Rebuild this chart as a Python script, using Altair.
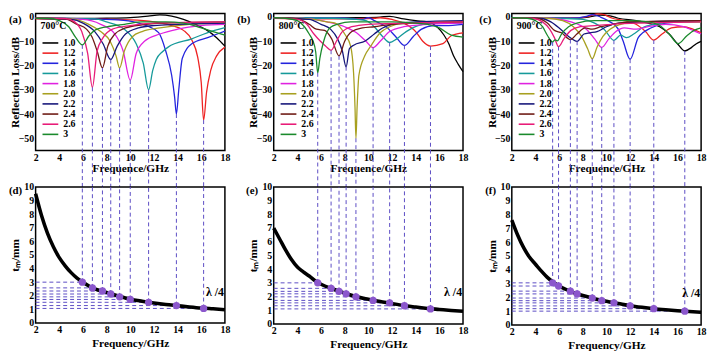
import altair as alt
import pandas as pd

FONT = "Liberation Serif"
THICK = ["1.0", "1.2", "1.4", "1.6", "1.8", "2.0", "2.2", "2.4", "2.6", "3"]
COLORS = ["#000000", "#ee2222", "#2424dd", "#169a9a", "#e022e0", "#a8a020",
          "#16167a", "#6e1a14", "#e81c78", "#1a8a2c"]
LINE_PURPLE = "#5b4cc4"
DOT_PURPLE = "#8b57cc"
X_TICKS = [2, 4, 6, 8, 10, 12, 14, 16, 18]
RL_TICKS = [0, -10, -20, -30, -40, -50]
TM_TICKS = list(range(0, 11))
XMIN, XMAX = 2, 18
RL_DOMAIN = [-55, 1.5]
TM_DOMAIN = [0, 10]

# ---------------- (a) 700 C : reflection loss curves ----------------
a10_f = [2, 4, 6, 8, 10, 11.5, 12.5, 13.5, 14.5, 15.5, 16.5, 17.3, 18]
a10_rl = [-0.5, -0.5, -0.6, -0.5, -0.2, 0.4, 0.9, 0.4, -1.0, -3.0, -5.5, -8.5, -12.0]
a12_f = [2, 6, 10, 12, 13.5, 14.5, 15.2, 15.7, 16.0, 16.2, 16.45, 16.8, 17.3, 18]
a12_rl = [-0.8, -0.8, -1.2, -2.0, -3.5, -5.5, -9.5, -16.5, -27, -42.5, -31, -22, -16, -12.4]
a14_f = [2, 6, 9, 10.5, 11.5, 12.4, 13.0, 13.5, 13.75, 13.9, 14.1, 14.4, 15.2, 16.6, 18]
a14_rl = [-0.5, -0.7, -1.2, -2.2, -3.8, -6.4, -14, -24, -33, -40, -30, -17, -11, -8.4, -5.8]
a16_f = [2, 7, 8, 9.5, 10.5, 11.1, 11.55, 11.9, 12.2, 12.7, 13.2, 15.2, 16.5, 18]
a16_rl = [-0.5, -0.8, -2.0, -5.0, -11.0, -19.0, -30.0, -22.0, -17.5, -14.4, -12.4, -9.0, -6.5, -4.4]
a18_f = [2, 6, 7.5, 8.7, 9.4, 10.0, 10.5, 11.2, 12.5, 14, 16, 18]
a18_rl = [-0.5, -1.0, -3.0, -7.0, -14.0, -26.0, -15.0, -10.0, -7.0, -5.0, -3.5, -3.0]
a20_f = [2, 5, 6.5, 7.5, 8.3, 8.8, 9.1, 9.5, 10.2, 11, 12.5, 15, 18]
a20_rl = [-0.5, -0.8, -3.0, -6.0, -10.0, -16.0, -21.0, -14.0, -8.0, -6.0, -4.5, -3.0, -2.5]
a22_f = [2, 5, 6, 7, 7.7, 8.35, 8.9, 9.6, 10.7, 12, 14, 18]
a22_rl = [-0.5, -1.0, -2.5, -6.0, -11.0, -17.5, -12.0, -7.0, -4.5, -3.5, -3.0, -2.5]
a24_f = [2, 4.5, 5.5, 6.3, 6.75, 7.2, 7.65, 8.1, 8.7, 9.6, 11, 13, 18]
a24_rl = [-0.5, -0.8, -3.0, -5.0, -8.0, -14.0, -21.0, -12.0, -7.0, -4.5, -3.2, -2.5, -2.0]
a26_f = [2, 4.5, 5.3, 5.9, 6.4, 6.8, 7.2, 7.7, 8.5, 10, 12, 18]
a26_rl = [-0.5, -0.6, -2.0, -6.0, -15.0, -29.0, -14.0, -8.5, -5.0, -3.5, -2.5, -2.0]
a30_f = [2, 3, 4, 4.8, 5.4, 5.95, 6.5, 7.1, 8.3, 9.5, 11, 13, 14.5, 16, 17, 18]
a30_rl = [-0.5, -0.5, -1.5, -4.0, -8.5, -11.5, -7.8, -5.2, -3.8, -3.0, -2.0, -2.0, -2.5, -4.5, -6.0, -7.5]

# ---------------- (b) 800 C ----------------
b10_f = [2, 6, 9, 11, 11.8, 13, 14, 15, 15.8, 16.4, 16.8, 17.2, 17.6, 18]
b10_rl = [-0.5, -0.5, -0.3, 0.0, 0.3, -0.8, -1.5, -2.0, -4.0, -7.5, -11.0, -16.0, -19.5, -22.5]
b12_f = [2, 8, 10.5, 11, 12, 13, 14, 14.6, 15.25, 16.3, 17, 18]
b12_rl = [-0.5, -0.8, -0.5, -0.3, -1.0, -2.5, -6.0, -10.0, -12.0, -11.0, -7.7, -6.5]
b14_f = [2, 8, 9.5, 10, 10.5, 11.5, 12.3, 13.05, 13.8, 14.5, 15.5, 16.5, 18]
b14_rl = [-0.3, -0.5, -1.0, -0.2, -1.5, -4.0, -8.0, -11.7, -8.0, -5.0, -3.5, -3.5, -3.0]
b16_f = [2, 7, 9, 9.8, 10.5, 11.2, 11.8, 12.4, 13.2, 14.2, 15.5, 18]
b16_rl = [-0.3, -0.5, -1.0, -1.5, -4.0, -8.0, -10.5, -9.0, -6.0, -3.5, -2.5, -2.5]
b18_f = [2, 5, 6.5, 8, 9, 9.8, 10.4, 11, 11.8, 13, 15, 18]
b18_rl = [-0.3, -0.8, -2.0, -4.0, -6.5, -10.0, -12.6, -10.0, -6.0, -4.0, -3.0, -2.5]
b20_f = [2, 5, 6.5, 7.2, 8.0, 8.5, 8.75, 8.87, 8.95, 9.05, 9.2, 9.7, 10.2, 11, 11.8, 13, 18]
b20_rl = [-0.3, -0.8, -2.0, -2.5, -7.0, -12.0, -23.0, -37.0, -50.0, -37.0, -24.0, -16.0, -12.0, -6.5, -4.0, -2.5, -2.0]
b22_f = [2, 5, 6, 6.8, 7.4, 7.8, 8.12, 8.4, 8.8, 9.7, 10.5, 11.2, 12, 14, 18]
b22_rl = [-0.3, -1.0, -3.0, -5.0, -9.0, -14.0, -20.5, -13.0, -11.5, -10.0, -7.0, -4.5, -3.0, -2.0, -1.5]
b24_f = [2, 4, 5, 5.6, 6.3, 6.9, 7.52, 8, 8.6, 9.5, 10.5, 12, 18]
b24_rl = [-0.3, -0.8, -3.0, -5.0, -5.5, -9.0, -16.0, -10.0, -6.0, -4.5, -4.0, -3.0, -2.0]
b26_f = [2, 4, 4.8, 5.4, 5.95, 6.4, 6.85, 7.3, 7.8, 8.6, 10, 13, 18]
b26_rl = [-0.3, -1.0, -3.0, -7.0, -10.0, -12.0, -13.7, -10.0, -6.0, -4.0, -3.0, -2.5, -2.0]
b30_f = [2, 3, 4, 4.6, 5.0, 5.3, 5.55, 5.72, 5.9, 6.2, 6.75, 7.5, 8.5, 12, 14, 15, 16, 17, 18]
b30_rl = [-0.3, -0.5, -1.5, -4.0, -7.0, -9.7, -14.4, -23.0, -17.0, -10.4, -4.4, -2.8, -2.0, -2.0, -2.5, -3.0, -4.5, -7.5, -8.3]

# ---------------- (c) 900 C ----------------
c10_f = [2, 7, 8.5, 9.5, 10.3, 11, 12.5, 13.5, 14.5, 15.3, 16.0, 16.62, 17.2, 17.6, 18]
c10_rl = [-0.3, -0.5, 0.0, 0.8, 0.5, -0.5, -1.5, -2.5, -4.0, -7.0, -11.0, -14.0, -12.5, -11.0, -10.0]
c12_f = [2, 7, 8.5, 9.3, 9.8, 10.5, 11.5, 12.5, 13.3, 14.0, 14.7, 15.5, 16.5, 17.3, 18]
c12_rl = [-0.3, -0.5, 0.3, 1.3, 1.0, -0.5, -1.5, -3.0, -6.0, -9.5, -7.0, -4.5, -4.0, -5.0, -6.5]
c14_f = [2, 7, 8.3, 8.8, 9.5, 10.3, 11.0, 11.4, 12.0, 12.7, 13.8, 15, 16.5, 18]
c14_rl = [-0.3, -0.5, 0.3, 1.0, 0.0, -2.0, -5.0, -9.8, -17.4, -8.4, -4.4, -2.5, -2.0, -1.5]
c16_f = [2, 6, 8, 9, 9.8, 10.63, 11.2, 11.7, 12.3, 13, 14, 16, 18]
c16_rl = [-0.3, -0.5, -1.0, -2.5, -5.0, -9.6, -7.5, -8.5, -7.0, -4.5, -3.0, -2.0, -2.0]
c18_f = [2, 5, 7, 8.3, 9.0, 9.6, 10.2, 10.8, 11.5, 12.5, 13.5, 15, 16.5, 17.3, 18]
c18_rl = [-0.3, -0.5, -2.0, -5.0, -9.0, -12.5, -9.0, -6.0, -4.5, -5.0, -4.0, -3.0, -4.0, -5.5, -7.0]
c20_f = [2, 5, 6.3, 7.2, 7.9, 8.4, 8.8, 9.2, 9.7, 10.3, 11.2, 12.5, 18]
c20_rl = [-0.3, -0.5, -1.5, -4.0, -8.0, -13.0, -17.2, -12.5, -8.0, -5.0, -3.0, -2.0, -2.0]
c22_f = [2, 4.5, 5.3, 6, 6.8, 7.52, 8.1, 8.6, 9.2, 10, 11, 13, 18]
c22_rl = [-0.3, -0.6, -2.0, -4.5, -8.0, -10.0, -7.0, -6.5, -6.0, -4.0, -2.5, -2.0, -1.5]
c24_f = [2, 4.2, 5.0, 5.6, 6.2, 6.95, 7.5, 8.2, 8.8, 9.5, 10.5, 12, 18]
c24_rl = [-0.3, -0.6, -2.5, -5.5, -6.5, -9.3, -7.0, -4.5, -5.0, -4.0, -3.0, -2.0, -1.5]
c26_f = [2, 3.8, 4.6, 5.2, 5.6, 5.95, 6.4, 7, 7.8, 9, 10.5, 13, 18]
c26_rl = [-0.3, -0.6, -2.0, -5.0, -8.5, -12.2, -9.0, -5.5, -4.0, -3.5, -3.0, -2.5, -2.0]
c30_f = [2, 3.3, 4.0, 4.6, 5.0, 5.45, 5.65, 5.85, 6.2, 6.8, 7.5, 9, 12, 13.5, 14.5, 15.3, 16.05, 16.8, 17.4, 18]
c30_rl = [-0.3, -0.5, -1.5, -4.0, -7.5, -10.3, -9.4, -9.8, -7.0, -4.0, -2.5, -1.5, -1.5, -2.0, -3.5, -7.0, -11.0, -7.7, -5.5, -4.5]

# ---------------- dips (vertical guide lines) ----------------
dip_f_a = [5.95, 6.8, 7.65, 8.35, 9.1, 10.0, 11.55, 13.9, 16.2]
dip_rl_a = [-11.5, -29, -21, -17.5, -21, -26, -30, -40, -42.5]
dip_f_b = [5.72, 6.85, 7.52, 8.12, 8.95, 10.4, 11.8, 13.05, 15.25]
dip_rl_b = [-23, -13.7, -16, -20.5, -50, -12.6, -10.5, -11.7, -12]
dip_f_c = [5.45, 5.95, 6.95, 7.52, 8.8, 9.6, 10.63, 12.0, 14.0, 16.62]
dip_rl_c = [-10.3, -12.2, -9.3, -10, -17.2, -12.5, -9.6, -17.4, -9.5, -14]

# ---------------- lambda/4 thickness curves ----------------
q_f = [2, 2.5, 3, 3.5, 4, 4.5, 5, 5.5, 6, 7, 8, 9, 10, 11, 12, 13, 14, 15, 16, 17, 18]
d_tm = [9.5, 7.9, 6.6, 5.6, 4.8, 4.2, 3.7, 3.3, 3.0, 2.5, 2.25, 1.98, 1.75, 1.6, 1.47, 1.36, 1.27, 1.18, 1.1, 1.04, 0.98]
e_tm = [7.0, 6.2, 5.4, 4.7, 4.15, 3.8, 3.5, 3.15, 2.9, 2.55, 2.25, 1.98, 1.8, 1.64, 1.5, 1.34, 1.23, 1.13, 1.06, 0.99, 0.93]
f_tm = [7.6, 6.5, 5.6, 4.9, 4.4, 3.9, 3.45, 3.1, 2.82, 2.42, 2.13, 1.9, 1.72, 1.56, 1.4, 1.28, 1.18, 1.1, 1.03, 0.97, 0.92]

dot_tm_d = [3.0, 2.58, 2.35, 2.13, 1.92, 1.73, 1.52, 1.28, 1.07]
dot_tm_e = [3.0, 2.6, 2.38, 2.2, 1.98, 1.72, 1.54, 1.33, 1.1]
dot_tm_f = [3.05, 2.82, 2.45, 2.25, 1.95, 1.76, 1.6, 1.38, 1.18, 1.0]

# ---------------- layout ----------------
W = 192
TOP_H = 139
ROW_GAP = 37
COL_GAP = 49.5
BOT_H = [138, 139, 140]

curves_a = [(a10_f, a10_rl), (a12_f, a12_rl), (a14_f, a14_rl), (a16_f, a16_rl), (a18_f, a18_rl),
            (a20_f, a20_rl), (a22_f, a22_rl), (a24_f, a24_rl), (a26_f, a26_rl), (a30_f, a30_rl)]
curves_b = [(b10_f, b10_rl), (b12_f, b12_rl), (b14_f, b14_rl), (b16_f, b16_rl), (b18_f, b18_rl),
            (b20_f, b20_rl), (b22_f, b22_rl), (b24_f, b24_rl), (b26_f, b26_rl), (b30_f, b30_rl)]
curves_c = [(c10_f, c10_rl), (c12_f, c12_rl), (c14_f, c14_rl), (c16_f, c16_rl), (c18_f, c18_rl),
            (c20_f, c20_rl), (c22_f, c22_rl), (c24_f, c24_rl), (c26_f, c26_rl), (c30_f, c30_rl)]


def curve_frame(curves):
    rows = []
    for t, (fs, rls) in zip(THICK, curves):
        for f, r in zip(fs, rls):
            rows.append({"f": f, "rl": r, "t": t})
    return pd.DataFrame(rows)


def x_enc(field, title, tpad=0):
    return alt.X(field, type="quantitative",
                 scale=alt.Scale(domain=[XMIN, XMAX], nice=False, zero=False),
                 axis=alt.Axis(values=X_TICKS, title=title, labelFlush=False,
                               labelOverlap=False, labelPadding=2, titlePadding=tpad))


def y_rl():
    return alt.Y("rl:Q", scale=alt.Scale(domain=RL_DOMAIN, nice=False, zero=False),
                 axis=alt.Axis(values=RL_TICKS, title="Reflection Loss/dB", labelOverlap=False,
                               minExtent=15, maxExtent=15, titlePadding=0))


def y_tm():
    return alt.Y("tm:Q", scale=alt.Scale(domain=TM_DOMAIN, nice=False),
                 axis=alt.Axis(values=TM_TICKS, title="tₘ/mm", labelOverlap=False,
                               minExtent=15, maxExtent=15, titlePadding=0))


def letter(lab, dx, dy):
    return alt.Chart(pd.DataFrame({"lab": [lab]})).mark_text(
        font=FONT, fontSize=11, fontWeight="bold", align="left", baseline="middle",
        color="black").encode(text="lab:N", x=alt.value(dx), y=alt.value(dy))


def top_panel(curves, temp, dip_f, dip_rl, lab, ldx):
    df = curve_frame(curves)
    lines = alt.Chart(df).mark_line(strokeWidth=1.3, interpolate="monotone").encode(
        x=x_enc("f", "Frequence/GHz"),
        y=y_rl(),
        color=alt.Color("t:N", sort=THICK,
                        scale=alt.Scale(domain=THICK, range=COLORS),
                        legend=alt.Legend(
                            title=temp, orient="none", legendX=5, legendY=8,
                            titleFont=FONT, titleFontSize=10, titleFontWeight="bold",
                            titleColor="black", titlePadding=7,
                            labelFont=FONT, labelFontSize=10, labelFontWeight="bold",
                            labelColor="black", symbolType="M-2,0H2", symbolSize=64,
                            symbolStrokeWidth=1.6, rowPadding=0.3, padding=0,
                            symbolOffset=5, labelOffset=8)),
    )
    dips = pd.DataFrame({"f": dip_f, "rl": dip_rl})
    rules = alt.Chart(dips).mark_rule(color=LINE_PURPLE, strokeDash=[4, 3], strokeWidth=1).encode(
        x=x_enc("f", "Frequence/GHz"), y=y_rl(), y2=alt.value(TOP_H + ROW_GAP))
    return alt.layer(lines, rules, letter(lab, ldx, 7)).properties(width=W, height=TOP_H)


def bottom_panel(tm, dot_f, dot_tm, h, lab, ldx, ldy):
    curve = pd.DataFrame({"f": q_f, "tm": tm})
    dots = pd.DataFrame({"f": dot_f, "tm": dot_tm, "f0": [XMIN] * len(dot_f)})
    xt = "Frequency/GHz"
    vrules = alt.Chart(dots).mark_rule(color=LINE_PURPLE, strokeDash=[4, 3], strokeWidth=1).encode(
        x=x_enc("f", xt, 3), y=y_tm(), y2=alt.value(0))
    hrules = alt.Chart(dots).mark_rule(color=LINE_PURPLE, strokeDash=[4, 3], strokeWidth=1).encode(
        x=x_enc("f0", xt, 3), x2="f:Q", y=y_tm())
    line = alt.Chart(curve).mark_line(color="black", strokeWidth=3.6, interpolate="monotone").encode(
        x=x_enc("f", xt, 3), y=y_tm())
    pts = alt.Chart(dots).mark_circle(color=DOT_PURPLE, size=55, opacity=1).encode(
        x=x_enc("f", xt, 3), y=y_tm())
    lam = alt.Chart(pd.DataFrame({"lab": ["λ /4"], "f": [16.4], "tm": [2.3]})).mark_text(
        font=FONT, fontSize=12, fontWeight="bold", color="black", align="left",
        baseline="middle").encode(text="lab:N", x=x_enc("f", xt, 3), y=y_tm())
    return alt.layer(vrules, hrules, line, pts, lam, letter(lab, ldx, ldy)).properties(width=W, height=h)


chart = alt.concat(
    top_panel(curves_a, "700°C", dip_f_a, dip_rl_a, "(a)", -27),
    top_panel(curves_b, "800°C", dip_f_b, dip_rl_b, "(b)", -37),
    top_panel(curves_c, "900°C", dip_f_c, dip_rl_c, "(c)", -33),
    bottom_panel(d_tm, dip_f_a, dot_tm_d, BOT_H[0], "(d)", -27, 4),
    bottom_panel(e_tm, dip_f_b, dot_tm_e, BOT_H[1], "(e)", -28, 4),
    bottom_panel(f_tm, dip_f_c, dot_tm_f, BOT_H[2], "(f)", -27, 4),
    columns=3, bounds="flush", spacing={"row": ROW_GAP, "column": COL_GAP},
).resolve_scale(
    x="independent", y="independent", color="independent"
).properties(padding=0).configure_view(
    stroke="black", strokeWidth=1.5
).configure_axis(
    labelFont=FONT, labelFontSize=10, labelFontWeight="bold", labelColor="black",
    titleFont=FONT, titleFontSize=11.5, titleFontWeight="bold", titleColor="black",
    domain=False, ticks=False, grid=False, labelPadding=2,
)

chart.save("out.html", embed_options={"renderer": "svg", "actions": False})
